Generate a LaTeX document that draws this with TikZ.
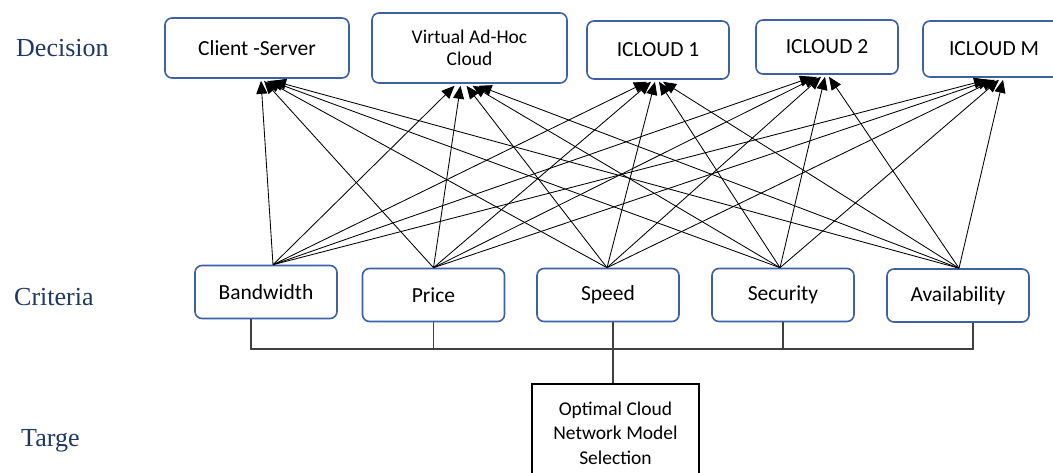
\documentclass[tikz,border=0pt]{standalone}
\usepackage{fontspec}
\setmainfont{Carlito}
\newfontfamily\labelfont{Liberation Serif}
\usetikzlibrary{arrows.meta,calc}
\definecolor{boxblue}{RGB}{62,96,165}
\definecolor{navy}{RGB}{32,56,100}
\begin{document}
\begin{tikzpicture}[x=1pt,y=-1pt,
  dec/.style={draw=boxblue, line width=1.6pt, rounded corners=7pt, fill=white, align=center, font=\fontsize{21.5}{24}\selectfont, inner sep=0pt},
  crit/.style={dec, minimum width=142pt, minimum height=53pt},
  lab/.style={font=\labelfont\fontsize{26}{30}\selectfont, text=navy, anchor=base west, inner sep=0pt},
  link/.style={line width=0.85pt, -{Triangle[length=13pt,width=11pt]}},
  bus/.style={line width=1.1pt, draw=black!75}
]
\clip (0,0) rectangle (1053,472);
\fill[white] (0,0) rectangle (1053,472);

% labels
\node[lab] (ldec) at (16,56) {Decision};
\node[lab] (lcrit) at (14,305) {Criteria};
\node[lab] (ltar) at (21,446) {Targe};

% decisions
\node[dec, minimum width=184pt, minimum height=60pt] (cs) at (257,48) {Client -Server};
\node[dec, minimum width=195pt, minimum height=70pt, font=\fontsize{19.5}{22.5}\selectfont] (vac) at (469.5,48) {Virtual Ad-Hoc\\Cloud};
\node[dec, minimum width=142pt, minimum height=58pt] (ic1) at (658,50) {ICLOUD 1};
\node[dec, minimum width=142pt, minimum height=54pt] (ic2) at (827,47) {ICLOUD 2};
\node[dec, minimum width=142pt, minimum height=56pt] (icm) at (994,49) {ICLOUD M};

% criteria
\node[crit] (bw) at (266,292) {Bandwidth};
\node[crit] (pr) at (433.5,295) {Price};
\node[crit] (sp) at (608,295) {Speed};
\node[crit] (se) at (783,295) {Security};
\node[crit] (av) at (958,295.5) {Availability};

% target
\node[draw, line width=2pt, minimum width=167pt, minimum height=98pt, align=center, inner sep=0pt,
      font=\fontsize{19.5}{24.5}\selectfont] (tg) at (615.5,433) {Optimal Cloud\\Network Model\\Selection};

% links
\foreach \c/\ox [count=\i] in {bw/7,pr/0,sp/-1,se/-3,av/1} {
  \foreach \d/\dx/\s in {cs/10/3, vac/-3/6, ic1/-3/4, ic2/-6/4, icm/1/4} {
    \draw[link] ($(\c.north)+(\ox,0)$) -- ($(\d.south)+({\dx+(\i-3)*\s},2)$);
  }
}

% bus
\coordinate (bl) at (251,349);
\coordinate (br) at (973,349);
\draw[bus] ([xshift=-15pt]bw.south) |- (br) -- ([xshift=15pt]av.south);
\draw[bus] (pr.south) -- (pr.south |- bl);
\draw[bus] (se.south) -- (se.south |- bl);
\draw[bus] ([xshift=5pt]sp.south) -- ([xshift=5pt]sp.south |- tg.north);
\end{tikzpicture}
\end{document}
